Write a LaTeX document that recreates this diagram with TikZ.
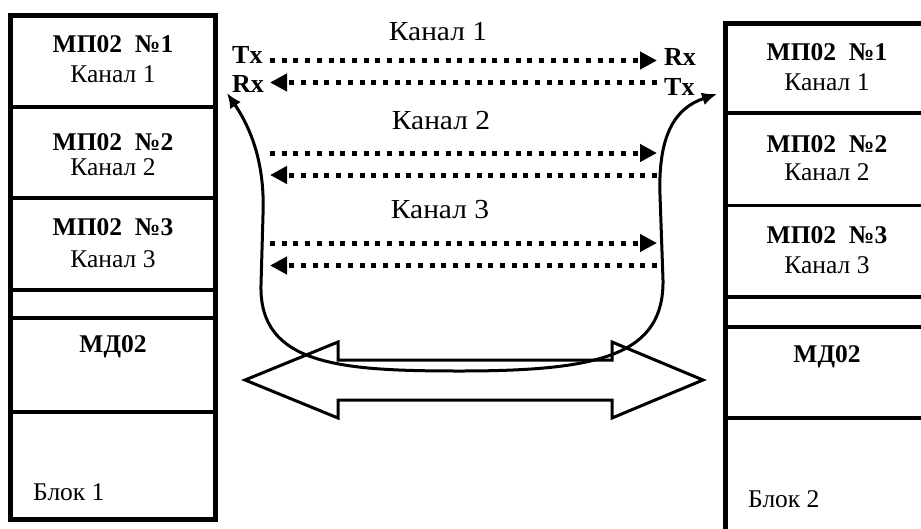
\documentclass[tikz,border=0pt]{standalone}
\usepackage{fontspec}
\setmainfont{Liberation Serif}
\usetikzlibrary{arrows.meta}
\begin{document}
\begin{tikzpicture}[x=1pt,y=-1pt,
  outer/.style={line width=5pt},
  divider/.style={line width=3.5pt},
  bt/.style={font=\fontsize{25.5}{30}\selectfont\bfseries, inner sep=0pt, anchor=base},
  rt/.style={font=\fontsize{25.5}{30}\selectfont, inner sep=0pt, anchor=base},
  chlabel/.style={font=\fontsize{27.5}{32}\selectfont, inner sep=0pt, anchor=base, xscale=1.07},
  txrx/.style={font=\fontsize{26}{30}\selectfont\bfseries, inner sep=0pt, anchor=base west},
  dotline/.style={line width=5pt, dash pattern=on 5pt off 6.7pt},
  dotarrow/.style={dotline, -{Triangle[length=17pt,width=17pt]}},
  curve/.style={line width=3pt, {Latex[length=15pt,width=13pt]}-{Latex[length=15pt,width=13pt]}},
  bigarrow/.style={line width=3pt, line join=miter}
]
\useasboundingbox (0,0) rectangle (921,528);
\fill[white] (0,0) rectangle (921,528);

% ---- Block 1 ----
\foreach \y in {107,198,290,318,412} \draw[divider] (10.5,\y) -- (215.5,\y);
\draw[outer] (10.5,15.5) rectangle (215.5,519.5);
\node[bt] (l1a) at (113,52) {МП02\ \ №1};
\node[rt] (l1b) at (113,82) {Канал 1};
\node[bt] (l2a) at (113,150) {МП02\ \ №2};
\node[rt] (l2b) at (113,175) {Канал 2};
\node[bt] (l3a) at (113,235) {МП02\ \ №3};
\node[rt] (l3b) at (113,267) {Канал 3};
\node[bt] (lmd) at (113,352) {МД02};
\node[rt, anchor=base west] (lblk) at (33,500) {Блок 1};

% ---- Block 2 ----
\foreach \y in {113,205.5,297,327,418} \draw[divider] (725.5,\y) -- (928.5,\y);
\draw[outer] (725.5,540) -- (725.5,23.5) -- (928.5,23.5) -- (928.5,540);
\node[bt] (r1a) at (827,60) {МП02\ \ №1};
\node[rt] (r1b) at (827,90) {Канал 1};
\node[bt] (r2a) at (827,152) {МП02\ \ №2};
\node[rt] (r2b) at (827,180) {Канал 2};
\node[bt] (r3a) at (827,243) {МП02\ \ №3};
\node[rt] (r3b) at (827,273) {Канал 3};
\node[bt] (rmd) at (827,362) {МД02};
\node[rt, anchor=base west] (rblk) at (748,507) {Блок 2};

% ---- Channel labels ----
\node[chlabel] (k1) at (438,40) {Канал 1};
\node[chlabel] (k2) at (441,129) {Канал 2};
\node[chlabel] (k3) at (440,218) {Канал 3};

\node[txrx] (txl) at (232,63) {Tx};
\node[txrx] (rxl) at (232,92) {Rx};
\node[txrx] (rxr) at (664,65) {Rx};
\node[txrx] (txr) at (664,95) {Tx};

% ---- Dotted channel lines ----
\coordinate (a1) at (270,60.5);  \coordinate (b1) at (657,60.5);
\coordinate (c1) at (270,82.5);  \coordinate (d1) at (657,82.5);
\coordinate (a2) at (270,153);   \coordinate (b2) at (657,153);
\coordinate (c2) at (270,175);   \coordinate (d2) at (657,175);
\coordinate (a3) at (270,243);   \coordinate (b3) at (657,243);
\coordinate (c3) at (270,265.5); \coordinate (d3) at (657,265.5);
\foreach \i in {1,2,3} {
  \draw[dotarrow] (a\i) -- (b\i);
  \draw[dotarrow] (d\i) -- (c\i);
}

% ---- Big double arrow ----
\draw[bigarrow] (245,380) -- (338,342) -- (338,360) -- (612,360) -- (612,342)
  -- (703,380) -- (612,418) -- (612,400) -- (338,400) -- (338,418) -- cycle;

% ---- Loop connector ----
\coordinate (lt) at (227,93);
\coordinate (rt) at (717,94);
\draw[curve] (lt) .. controls (252,130) and (265,165) .. (263,215)
  -- (261,285) .. controls (259,365) and (340,371) .. (460,371)
  .. controls (600,371) and (664,355) .. (663,280)
  -- (660,195) .. controls (658,135) and (675,108) .. (rt);
\end{tikzpicture}
\end{document}
